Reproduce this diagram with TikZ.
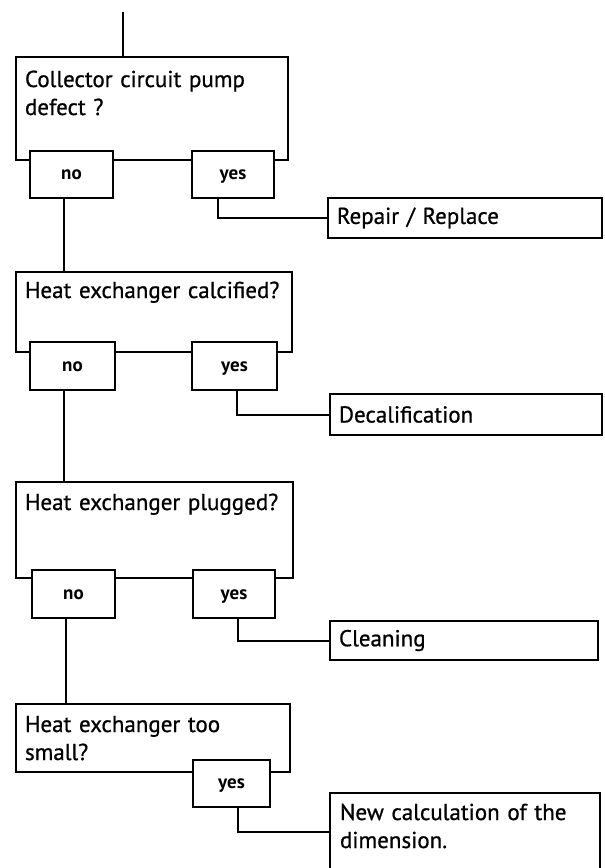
\documentclass[tikz,border=0pt]{standalone}
\usepackage{fontspec}
\setmainfont{PT Sans}
\begin{document}
\begin{tikzpicture}[x=1pt,y=-1pt,
  line width=2pt, line join=miter,
  box/.style={draw, fill=white, rectangle, inner sep=0pt, outer sep=0pt, anchor=north west},
  ans/.style={box, font=\bfseries\fontsize{19}{21}\selectfont, text height=10pt, text depth=0pt},
  txt/.style={inner sep=0pt, outer sep=0pt, anchor=base west, text width=290pt, align=left,
    font=\addfontfeature{FakeBold=0.8}\fontsize{23}{28}\selectfont},
  act/.style={box, font=\addfontfeature{FakeBold=0.8}\fontsize{23}{28}\selectfont, align=left, text width=#1, inner xsep=9pt}
]
\clip (0,0) rectangle (605,868);
\useasboundingbox (0,0) rectangle (605,868);
\fill[white] (0,0) rectangle (605,868);

% start
\coordinate (start) at (123,12);

% question 1
\node[box, minimum width=272, minimum height=103] (q1) at (16,57) {};
\node[txt] (q1t) at (25,87) {Collector circuit pump\\defect ?};
\node[ans, minimum width=83, minimum height=47] (no1) at (30,151) {no};
\node[ans, minimum width=82, minimum height=47] (yes1) at (192,151) {yes};
\node[act=256pt, minimum height=40, minimum width=274] (a1) at (328,198) {Repair / Replace};

% question 2
\node[box, minimum width=276, minimum height=80] (q2) at (16,272) {};
\node[txt] (q2t) at (25,298) {Heat exchanger calcified?};
\node[ans, minimum width=85, minimum height=48] (no2) at (30,342) {no};
\node[ans, minimum width=85, minimum height=48] (yes2) at (192,342) {yes};
\node[act=254pt, minimum height=41, minimum width=272] (a2) at (330,394) {Decalification};

% question 3
\node[box, minimum width=277, minimum height=96] (q3) at (16,482) {};
\node[txt] (q3t) at (25,510) {Heat exchanger plugged?};
\node[ans, minimum width=83, minimum height=48] (no3) at (32,570) {no};
\node[ans, minimum width=82, minimum height=48] (yes3) at (193,570) {yes};
\node[act=250pt, minimum height=39, minimum width=268] (a3) at (330,621) {Cleaning};

% question 4
\node[box, minimum width=274, minimum height=68] (q4) at (16,704) {};
\node[txt] (q4t) at (25,732) {Heat exchanger too\\small?};
\node[ans, minimum width=77, minimum height=47] (yes4) at (193,760) {yes};
\node[box, minimum width=270, minimum height=100] (a4) at (330,793) {};
\node[txt] (a4t) at (340,820) {New calculation of the\\dimension.};

% connectors
\draw (start) -- (start |- q1.north);
\draw ([xshift=-8pt]no1.south) -- ([xshift=-8pt]no1.south |- q2.north);
\draw ([xshift=-15pt]yes1.south) |- (a1.west);
\draw ([xshift=-9pt]no2.south) -- ([xshift=-9pt]no2.south |- q3.north);
\draw ([xshift=2pt]yes2.south) |- (a2.west);
\draw ([xshift=-8pt]no3.south) -- ([xshift=-8pt]no3.south |- q4.north);
\draw ([xshift=4pt]yes3.south) |- (a3.west);
\coordinate (a4in) at ([yshift=-39pt]a4.north west);
\draw ([xshift=6pt]yes4.south) |- (a4in);
\end{tikzpicture}
\end{document}
